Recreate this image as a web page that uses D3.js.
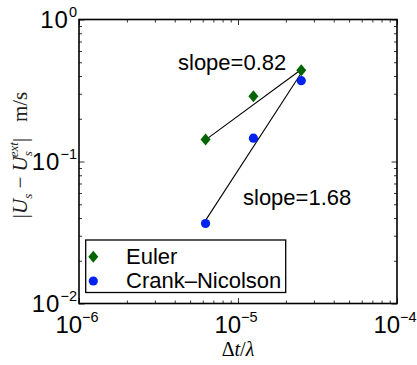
<!DOCTYPE html>
<html>
<head>
<meta charset="utf-8">
<style>
	body { margin: 0; background: #fff; }
	svg text { font-family: "Liberation Sans", Arial, sans-serif; fill: #000; }
	.domain { stroke: none; }
	.tick line { stroke: #000; stroke-width: 0.8px; }
</style>
</head>
<body>
<div id="chart"></div>
<script src="https://cdn.jsdelivr.net/npm/d3@7"></script>
<script>
	// data
	const dt = [6.25e-6, 1.25e-5, 2.5e-5];
	const eulerErr = [0.143, 0.288, 0.44];
	const cnErr = [0.0366, 0.146, 0.371];

	// fitted lines (end points at the first and last dt)
	const fitX = [6.25e-6, 2.5e-5];
	const eulerFit = [0.142, 0.445];
	const cnFit = [0.0385, 0.42];

	const slopeLabels = ["slope=0.82", "slope=1.68"];
	const seriesNames = ["Euler", "Crank\u2013Nicolson"];
	const xMajor = [1e-6, 1e-5, 1e-4];
	const xExp = ["\u22126", "\u22125", "\u22124"];
	const yMajor = [1e-2, 1e-1, 1e0];
	const yExp = ["\u22122", "\u22121", "0"];

	const W = 417, H = 365;
	const margin = { top: 19.5, right: 20, bottom: 61.5, left: 79 };
	const width = W - margin.left - margin.right;
	const height = H - margin.top - margin.bottom;

	const svg = d3.select("#chart").append("svg")
		.attr("width", W)
		.attr("height", H);

	const g = svg.append("g")
		.attr("transform", `translate(${margin.left}, ${margin.top})`);

	const x = d3.scaleLog().domain([1e-6, 1e-4]).range([0, width]);
	const y = d3.scaleLog().domain([1e-2, 1e0]).range([height, 0]);

	const xMinor = x.ticks().filter(v => !xMajor.some(m => Math.abs(m - v) / m < 1e-6));
	const yMinor = y.ticks().filter(v => !yMajor.some(m => Math.abs(m - v) / m < 1e-6));

	// ticks on all four sides, pointing inward
	function addTicks(axisFn, scale, values, len, transform) {
		g.append("g")
			.attr("transform", transform)
			.call(axisFn(scale).tickValues(values).tickSize(-len).tickFormat(""));
	}
	addTicks(d3.axisBottom, x, xMinor, 3, `translate(0, ${height})`);
	addTicks(d3.axisBottom, x, xMajor, 5.5, `translate(0, ${height})`);
	addTicks(d3.axisTop, x, xMinor, 3, "translate(0, 0)");
	addTicks(d3.axisTop, x, xMajor, 5.5, "translate(0, 0)");
	addTicks(d3.axisLeft, y, yMinor, 3, "translate(0, 0)");
	addTicks(d3.axisLeft, y, yMajor, 5.5, "translate(0, 0)");
	addTicks(d3.axisRight, y, yMinor, 3, `translate(${width}, 0)`);
	addTicks(d3.axisRight, y, yMajor, 5.5, `translate(${width}, 0)`);

	// frame
	g.append("rect")
		.attr("width", width)
		.attr("height", height)
		.attr("fill", "none")
		.attr("stroke", "#000")
		.attr("stroke-width", 1.6);

	// tick labels: 10 with superscript exponent
	function powerLabel(sel, exp, space) {
		sel.append("tspan").attr("letter-spacing", space).text("10");
		sel.append("tspan")
			.attr("dy", -11)
			.attr("font-size", 14.5)
			.text(exp);
	}

	xMajor.forEach((v, i) => {
		g.append("text")
			.attr("x", x(v) - 2)
			.attr("y", height + 29)
			.attr("text-anchor", "middle")
			.attr("font-size", 24)
			.call(powerLabel, xExp[i], 0);
	});

	yMajor.forEach((v, i) => {
		g.append("text")
			.attr("x", -2)
			.attr("y", y(v) + 8.5)
			.attr("text-anchor", "end")
			.attr("font-size", 24)
			.call(powerLabel, yExp[i], 1);
	});

	// axis titles (LaTeX-ish serif)
	const xTitle = svg.append("text")
		.attr("x", margin.left + x(1e-5))
		.attr("y", 356)
		.attr("text-anchor", "middle")
		.attr("font-size", 20)
		.style("font-family", "'Liberation Serif', serif");
	xTitle.append("tspan").text("\u0394");
	xTitle.append("tspan").attr("font-style", "italic").text("t");
	xTitle.append("tspan").text("/");
	xTitle.append("tspan").attr("font-style", "italic").text("\u03bb");

	const yTitle = svg.append("text")
		.attr("transform", `translate(27, 155) rotate(-90)`)
		.attr("text-anchor", "middle")
		.attr("font-size", 21)
		.style("font-family", "'Liberation Serif', serif")
		.style("fill", "#222");
	yTitle.append("tspan").text("|");
	yTitle.append("tspan").attr("font-style", "italic").text("U");
	yTitle.append("tspan").attr("font-style", "italic").attr("font-size", 13).attr("dy", 5).text("s");
	yTitle.append("tspan").attr("dy", -5).text(" \u2212 ");
	yTitle.append("tspan").attr("font-style", "italic").text("U");
	yTitle.append("tspan").attr("font-style", "italic").attr("font-size", 13).attr("dy", 5).text("s");
	yTitle.append("tspan").attr("font-style", "italic").attr("font-size", 13).attr("dx", -6).attr("dy", -14).text("ext");
	yTitle.append("tspan").attr("dy", 9).text("|\u2002 m/s");

	// fit lines
	const line = d3.line()
		.x(d => x(d[0]))
		.y(d => y(d[1]));

	[eulerFit, cnFit].forEach(fit => {
		g.append("path")
			.datum(fitX.map((v, i) => [v, fit[i]]))
			.attr("d", line)
			.attr("fill", "none")
			.attr("stroke", "#000")
			.attr("stroke-width", 1.1);
	});

	const diamond = "M0,-6L5,0L0,6L-5,0Z";
	const green = "#006400", blue = "#0022ee";

	g.selectAll(".euler")
		.data(dt.map((v, i) => [v, eulerErr[i]]))
		.join("path")
		.attr("class", "euler")
		.attr("transform", d => `translate(${x(d[0])}, ${y(d[1])})`)
		.attr("d", diamond)
		.attr("fill", green);

	g.selectAll(".cn")
		.data(dt.map((v, i) => [v, cnErr[i]]))
		.join("circle")
		.attr("class", "cn")
		.attr("cx", d => x(d[0]))
		.attr("cy", d => y(d[1]))
		.attr("r", 4.6)
		.attr("fill", blue);

	// slope annotations
	g.append("text")
		.attr("x", 178 - margin.left)
		.attr("y", 70 - margin.top)
		.attr("font-size", 22)
		.text(slopeLabels[0]);
	g.append("text")
		.attr("x", 243 - margin.left)
		.attr("y", 205 - margin.top)
		.attr("font-size", 22)
		.text(slopeLabels[1]);

	// legend
	const legend = g.append("g")
		.attr("transform", `translate(${85.7 - margin.left}, ${240 - margin.top})`);
	legend.append("rect")
		.attr("width", 200)
		.attr("height", 52.5)
		.attr("fill", "#fff")
		.attr("stroke", "#000")
		.attr("stroke-width", 1.3);

	seriesNames.forEach((name, i) => {
		const ly = 16.7 + i * 24.3;
		if (i === 0) {
			legend.append("path")
				.attr("transform", `translate(7.6, ${ly})`)
				.attr("d", diamond)
				.attr("fill", green);
		} else {
			legend.append("circle")
				.attr("cx", 7.6)
				.attr("cy", ly)
				.attr("r", 4.6)
				.attr("fill", blue);
		}
		legend.append("text")
			.attr("x", 40.3)
			.attr("y", ly + 7.3)
			.attr("font-size", 22)
			.text(name);
	});
</script>
</body>
</html>
